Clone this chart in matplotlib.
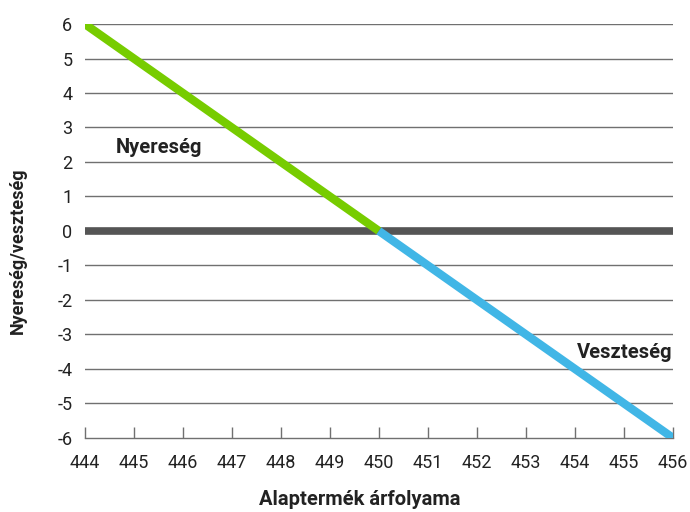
import numpy as np
import matplotlib.pyplot as plt

plt.rcParams['font.family'] = ['Roboto', 'DejaVu Sans']

x_gain = [444, 450]
y_gain = [6, 0]
x_loss = [450, 456]
y_loss = [0, -6]
xticks = list(range(444, 457))
yticks = list(range(-6, 7))

fig = plt.figure(figsize=(6.9, 5.12), dpi=100)
ax = fig.add_axes([0.123, 0.145, 0.852, 0.808])

for yv in yticks:
    if yv == 0 or yv == -6:
        continue
    ax.axhline(yv, color='#707070', lw=1.0, zorder=1)
ax.axhline(0, color='#555555', lw=5.5, zorder=2)

ax.plot(x_gain, y_gain, color='#77cc00', lw=6, solid_capstyle='butt', zorder=3)
ax.plot(x_loss, y_loss, color='#41b6e6', lw=6, solid_capstyle='butt', zorder=3)

ax.set_xlim(444, 456)
ax.set_ylim(-6, 6)
ax.set_xticks(xticks)
ax.set_yticks(yticks)
ax.set_yticklabels([str(v) for v in yticks])

for s in ['top', 'right', 'left']:
    ax.spines[s].set_visible(False)
ax.spines['bottom'].set_color('#707070')
ax.spines['bottom'].set_linewidth(1.0)

ax.tick_params(axis='x', direction='in', length=8, color='#707070', width=1,
               labelsize=13, pad=12, labelcolor='#222222')
ax.tick_params(axis='y', length=0, labelsize=13, pad=9, labelcolor='#222222')

ax.text(445.51, 2.41, 'Nyereség', fontsize=14.5, fontweight='bold', color='#222222',
        ha='center', va='center')
ax.text(456.0, -3.54, 'Veszteség', fontsize=14.5, fontweight='bold', color='#222222',
        ha='right', va='center')

fig.text(0.522, 0.006, 'Alaptermék árfolyama', fontsize=14.5, fontweight='bold',
         color='#222222', ha='center', va='bottom')
fig.text(0.026, 0.51, 'Nyereség/veszteség', fontsize=13, fontweight='bold',
         color='#222222', ha='center', va='center', rotation=90)

fig.savefig('out.png', dpi=100)
